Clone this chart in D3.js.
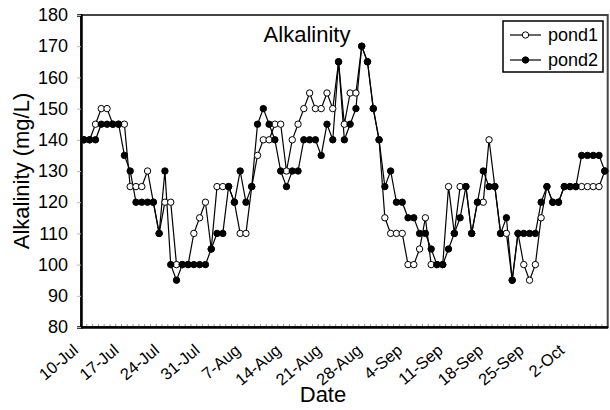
<!DOCTYPE html>
<html>
<head>
    <script src="https://d3js.org/d3.v7.min.js"></script>
    <style>
        body {
            margin: 0;
            background: #fff;
            font-family: Arial, 'Liberation Sans', sans-serif;
        }

        .axis text {
            font-family: Arial, 'Liberation Sans', sans-serif;
            fill: #000;
        }
    </style>
</head>

<body>
    <script>
        // daily readings from 10-Jul onward (one value per day)
        const startDate = '10-Jul';
        const pond1 = [140, 140, 145, 150, 150, 145, 145, 145, 125, 125,
            125, 130, 120, 110, 120, 120, 100, 100, 100, 110,
            115, 120, 105, 125, 125, 125, 120, 110, 110, 125,
            135, 140, 140, 145, 145, 130, 140, 145, 150, 155,
            150, 150, 155, 150, 165, 145, 155, 155, 170, 165,
            150, 140, 115, 110, 110, 110, 100, 100, 105, 115,
            100, 100, 100, 125, 110, 125, 125, 110, 120, 120,
            140, 125, 110, 110, 95, 110, 100, 95, 100, 115,
            125, 120, 120, 125, 125, 125, 125, 125, 125, 125,
            130];
        const pond2 = [140, 140, 140, 145, 145, 145, 145, 135, 130, 120,
            120, 120, 120, 110, 130, 100, 95, 100, 100, 100,
            100, 100, 105, 110, 110, 125, 120, 130, 120, 125,
            145, 150, 145, 140, 130, 125, 130, 130, 140, 140,
            140, 135, 145, 140, 165, 140, 145, 150, 170, 165,
            150, 140, 125, 130, 120, 120, 115, 115, 110, 110,
            105, 100, 100, 105, 110, 115, 125, 110, 120, 130,
            125, 125, 110, 115, 95, 110, 110, 110, 110, 120,
            125, 120, 120, 125, 125, 125, 135, 135, 135, 135,
            130];
        const tickLabels = ['10-Jul', '17-Jul', '24-Jul', '31-Jul', '7-Aug', '14-Aug', '21-Aug',
            '28-Aug', '4-Sep', '11-Sep', '18-Sep', '25-Sep', '2-Oct'];
        const yTicks = [80, 90, 100, 110, 120, 130, 140, 150, 160, 170, 180];
        const seriesNames = ['pond1', 'pond2'];

        const width = 610,
            height = 410;
        const plot = {left: 81, right: 607.7, top: 15, bottom: 327};

        const parse = d3.timeParse('%d-%b-%Y');
        const day0 = parse(startDate + '-2010');
        const dates = pond1.map((_, i) => d3.timeDay.offset(day0, i));

        const x = d3.scaleTime()
            .domain([d3.timeHour.offset(dates[0], -12), d3.timeHour.offset(dates[dates.length - 1], 12)])
            .range([plot.left, plot.right]);

        const y = d3.scaleLinear()
            .domain([80, 180])
            .range([plot.bottom, plot.top]);

        const svg = d3.select('body').append('svg')
            .attr('width', width)
            .attr('height', height);

        // small daily ticks along the bottom, pointing up
        const bounds = d3.range(dates.length + 1).map(i => d3.timeHour.offset(dates[0], -12 + 24 * i));
        svg.append('g')
            .selectAll('line')
            .data(bounds)
            .join('line')
            .attr('x1', d => x(d)).attr('x2', d => x(d))
            .attr('y1', plot.bottom).attr('y2', plot.bottom - 3)
            .attr('stroke', '#999')
            .attr('stroke-width', 1);

        // frame
        svg.append('rect')
            .attr('x', plot.left)
            .attr('y', plot.top)
            .attr('width', plot.right - plot.left)
            .attr('height', plot.bottom - plot.top)
            .attr('fill', 'none')
            .attr('stroke', '#444')
            .attr('stroke-width', 2);

        // y axis
        const yAxis = svg.append('g')
            .attr('class', 'axis')
            .attr('transform', `translate(${plot.left},0)`)
            .call(d3.axisLeft(y).tickValues(yTicks).tickSize(4).tickPadding(9));
        yAxis.select('.domain').attr('stroke', '#000').attr('stroke-width', 2.5);
        yAxis.selectAll('.tick line').attr('stroke', '#bbb');
        yAxis.selectAll('text').style('font-size', '18px');

        // x axis
        const tickDates = tickLabels.map(t => parse(t + '-2010'));
        const xAxis = svg.append('g')
            .attr('class', 'axis')
            .attr('transform', `translate(0,${plot.bottom})`)
            .call(d3.axisBottom(x).tickValues(tickDates).tickSize(0)
                .tickFormat((d, i) => tickLabels[i]));
        xAxis.select('.domain').attr('stroke', '#000').attr('stroke-width', 2.5);
        xAxis.selectAll('text')
            .style('font-size', '16.5px')
            .attr('text-anchor', 'end')
            .attr('dy', 0)
            .attr('transform', 'translate(-5,25) rotate(-40)')
            .attr('y', 0)
            .attr('x', 0);

        // series
        const line = d3.line()
            .x((d, i) => x(dates[i]))
            .y(d => y(d));

        [pond1, pond2].forEach(values => {
            svg.append('path')
                .datum(values)
                .attr('fill', 'none')
                .attr('stroke', '#000')
                .attr('stroke-width', 1.2)
                .attr('d', line);
        });

        [pond1, pond2].forEach((values, k) => {
            svg.append('g')
                .selectAll('circle')
                .data(values)
                .join('circle')
                .attr('cx', (d, i) => x(dates[i]))
                .attr('cy', d => y(d))
                .attr('r', 3.2)
                .attr('fill', k === 0 ? '#fff' : '#000')
                .attr('stroke', '#000')
                .attr('stroke-width', 1);
        });

        // title
        svg.append('text')
            .attr('x', 307)
            .attr('y', 42)
            .attr('text-anchor', 'middle')
            .style('font-size', '22px')
            .text('Alkalinity');

        // axis titles
        svg.append('text')
            .attr('transform', `translate(29,${(plot.top + plot.bottom) / 2}) rotate(-90)`)
            .attr('text-anchor', 'middle')
            .style('font-size', '22px')
            .text('Alkalinity (mg/L)');

        svg.append('text')
            .attr('x', 323)
            .attr('y', 402)
            .attr('text-anchor', 'middle')
            .style('font-size', '22px')
            .text('Date');

        // legend
        const legend = svg.append('g').attr('transform', 'translate(503,21)');
        legend.append('rect')
            .attr('width', 100).attr('height', 51)
            .attr('fill', '#fff')
            .attr('stroke', '#000')
            .attr('stroke-width', 1.5);

        seriesNames.forEach((name, k) => {
            const g = legend.append('g').attr('transform', `translate(0,${14 + k * 25})`);
            g.append('line')
                .attr('x1', 7).attr('x2', 38)
                .attr('stroke', '#000').attr('stroke-width', 1.2);
            g.append('circle')
                .attr('cx', 22.5).attr('r', 3.2)
                .attr('fill', k === 0 ? '#fff' : '#000')
                .attr('stroke', '#000');
            g.append('text')
                .attr('x', 45).attr('y', 6)
                .style('font-size', '18px')
                .text(name);
        });
    </script>
</body>

</html>
